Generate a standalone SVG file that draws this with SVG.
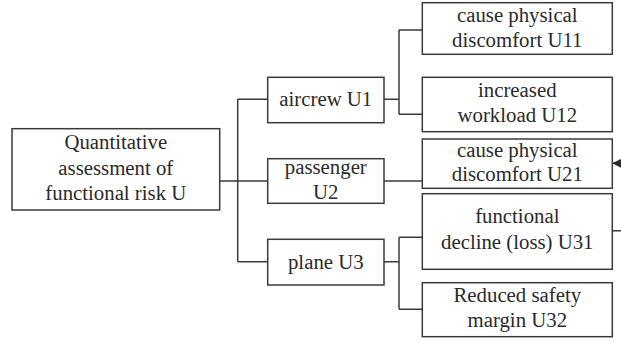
<svg xmlns="http://www.w3.org/2000/svg" width="621" height="343" viewBox="0 0 621 343">
<style>
.box{fill:#fff;stroke:#3a3a3a;stroke-width:1.5}
.ln{fill:none;stroke:#3a3a3a;stroke-width:1.5}
text{font-family:"Liberation Serif","Times New Roman",serif;font-size:20.8px;fill:#2a2a2a;text-anchor:middle}
</style>
<defs>
<marker id="ah" viewBox="0 0 10 10" refX="10" refY="5" markerWidth="9" markerHeight="9" markerUnits="userSpaceOnUse" orient="auto">
<path d="M0,0 L10,5 L0,10 z" fill="#2a2a2a"/>
</marker>
</defs>
<g id="connectors">
<path class="ln" d="M219.7,181 H267.7 M237.7,99.3 V261.7 M237.7,99.3 H267.7 M237.7,261.7 H267.7"/>
<path class="ln" d="M384,99.3 H399 M399,30 V114.3 M399,30 H422.3 M399,114.3 H422.3"/>
<path class="ln" d="M384,181 H422.3"/>
<path class="ln" d="M384,261.7 H399 M399,237.3 V309.3 M399,237.3 H422.3 M399,309.3 H422.3"/>
<path class="ln" d="M612.3,230.7 H632 V163.3 H612.3" marker-end="url(#ah)"/>
</g>
<g id="root">
<rect class="box" x="12" y="128.7" width="207.7" height="81.3"/>
<text x="115.8" y="149">Quantitative</text>
<text x="115.8" y="175">assessment of</text>
<text x="115.8" y="200">functional risk U</text>
</g>
<g id="u1">
<rect class="box" x="267.7" y="77.3" width="116.3" height="45.4"/>
<text x="325.8" y="106">aircrew U1</text>
</g>
<g id="u2">
<rect class="box" x="267.7" y="158.7" width="116.3" height="44.6"/>
<text x="325.8" y="174.3">passenger</text>
<text x="325.8" y="198.5">U2</text>
</g>
<g id="u3">
<rect class="box" x="267.7" y="239.3" width="116.3" height="45.7"/>
<text x="325.8" y="269">plane U3</text>
</g>
<g id="u11">
<rect class="box" x="422.3" y="2.7" width="190" height="51.6"/>
<text x="517.3" y="21.5">cause physical</text>
<text x="517.3" y="46.5">discomfort U11</text>
</g>
<g id="u12">
<rect class="box" x="422.3" y="77.3" width="190" height="54.4"/>
<text x="517.3" y="96.7">increased</text>
<text x="517.3" y="121.7">workload U12</text>
</g>
<g id="u21">
<rect class="box" x="422.3" y="139" width="190" height="49.3"/>
<text x="517.3" y="156.7">cause physical</text>
<text x="517.3" y="181">discomfort U21</text>
</g>
<g id="u31">
<rect class="box" x="422.3" y="193.7" width="190" height="75.6"/>
<text x="517.3" y="222.7">functional</text>
<text x="517.3" y="249.3">decline (loss) U31</text>
</g>
<g id="u32">
<rect class="box" x="422.3" y="282.7" width="190" height="54"/>
<text x="517.3" y="301.7">Reduced safety</text>
<text x="517.3" y="326.7">margin U32</text>
</g>
</svg>
